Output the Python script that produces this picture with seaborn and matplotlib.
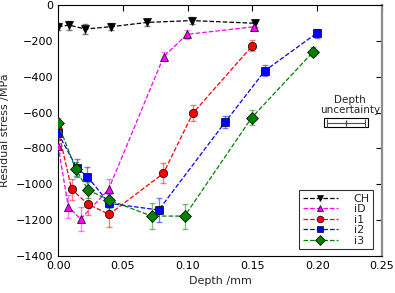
import numpy as np
import pandas as pd
import seaborn as sns
import matplotlib.pyplot as plt
from matplotlib.patches import Rectangle

# data
ch_depth = [0.0, 0.0085, 0.021, 0.041, 0.069, 0.103, 0.152]
ch_stress = [-121, -112, -134, -121, -97, -87, -102]
ch_err = [20, 25, 30, 20, 20, 20, 20]

id_depth = [0.0, 0.0079, 0.0174, 0.039, 0.0815, 0.0995, 0.1515]
id_stress = [-785, -1125, -1194, -1028, -288, -164, -121]
id_err = [40, 65, 67, 60, 25, 25, 25]

i1_depth = [0.0, 0.0105, 0.0233, 0.0395, 0.0813, 0.104, 0.150]
i1_stress = [-697, -1028, -1112, -1167, -939, -604, -227]
i1_err = [40, 60, 60, 70, 56, 45, 30]

i2_depth = [0.0, 0.0144, 0.0226, 0.0395, 0.0777, 0.129, 0.1597, 0.1995]
i2_stress = [-715, -907, -957, -1106, -1143, -653, -366, -158]
i2_err = [40, 50, 56, 50, 67, 35, 30, 25]

i3_depth = [0.0, 0.0136, 0.0233, 0.0395, 0.0723, 0.0977, 0.1495, 0.197]
i3_stress = [-660, -915, -1032, -1088, -1177, -1177, -628, -260]
i3_err = [30, 40, 45, 45, 72, 70, 40, 25]

series = [
    ("CH", ch_depth, ch_stress, ch_err, "black", "v"),
    ("iD", id_depth, id_stress, id_err, "magenta", "^"),
    ("i1", i1_depth, i1_stress, i1_err, "red", "o"),
    ("i2", i2_depth, i2_stress, i2_err, "blue", "s"),
    ("i3", i3_depth, i3_stress, i3_err, "green", "D"),
]

# depth uncertainty key
unc_x = 0.222
unc_y = -658
unc_err = 0.0146

sns.set_style("white")
plt.rcParams['font.family'] = ['DejaVu Sans']

fig = plt.figure(figsize=(3.95, 2.93), dpi=100)
ax = fig.add_axes([0.147, 0.126, 0.820, 0.857])

for name, x, y, err, col, mk in series:
    df = pd.DataFrame({"depth": x, "stress": y})
    ax.errorbar(x, y, yerr=err, fmt='none', ecolor=col, alpha=0.5,
                capsize=2.5, elinewidth=1, capthick=1, zorder=2)
    sns.lineplot(data=df, x="depth", y="stress", ax=ax, color=col,
                 marker=mk, markersize=6, mec='k', mew=0.5,
                 linestyle='--', linewidth=0.9, label=name, sort=False,
                 zorder=3)

# depth uncertainty box
ax.errorbar([unc_x], [unc_y], xerr=[unc_err], fmt='|', color='0.3',
            ms=4, capsize=3, elinewidth=0.8, capthick=0.8)
ax.add_patch(Rectangle((0.205, -683), 0.0345, 52, fill=False,
                       edgecolor='black', linewidth=0.8))
ax.text(0.2255, -612, "Depth\nuncertainty", ha='center', va='bottom',
        fontsize=7.5, linespacing=0.95)

ax.set_xlim(0, 0.25)
ax.set_ylim(-1400, 0)
ax.set_xticks(np.arange(0, 0.26, 0.05))
ax.set_xticklabels([f"{v:.2f}" for v in np.arange(0, 0.26, 0.05)])
ax.set_yticks(np.arange(-1400, 1, 200))
ax.set_yticklabels([f"\u2212{-v}" if v < 0 else "0" for v in range(-1400, 1, 200)])
ax.tick_params(direction='in', top=True, right=True, length=4,
               width=0.8, labelsize=8, colors='black')
for s in ax.spines.values():
    s.set_color('black')
    s.set_linewidth(0.8)
ax.spines['right'].set_color('0.55')
ax.spines['right'].set_linewidth(1.6)

ax.set_xlabel("Depth /mm", fontsize=8)
ax.set_ylabel("Residual stress /MPa", fontsize=8)

leg = ax.legend(loc='lower right', fontsize=8, frameon=True, fancybox=False,
                edgecolor='black', handlelength=3.2, labelspacing=0.05,
                borderpad=0.3, handletextpad=1.4, markerscale=0.8,
                bbox_to_anchor=(0.99, 0.005))
leg.get_frame().set_linewidth(0.8)

fig.savefig("out.png", dpi=100)
